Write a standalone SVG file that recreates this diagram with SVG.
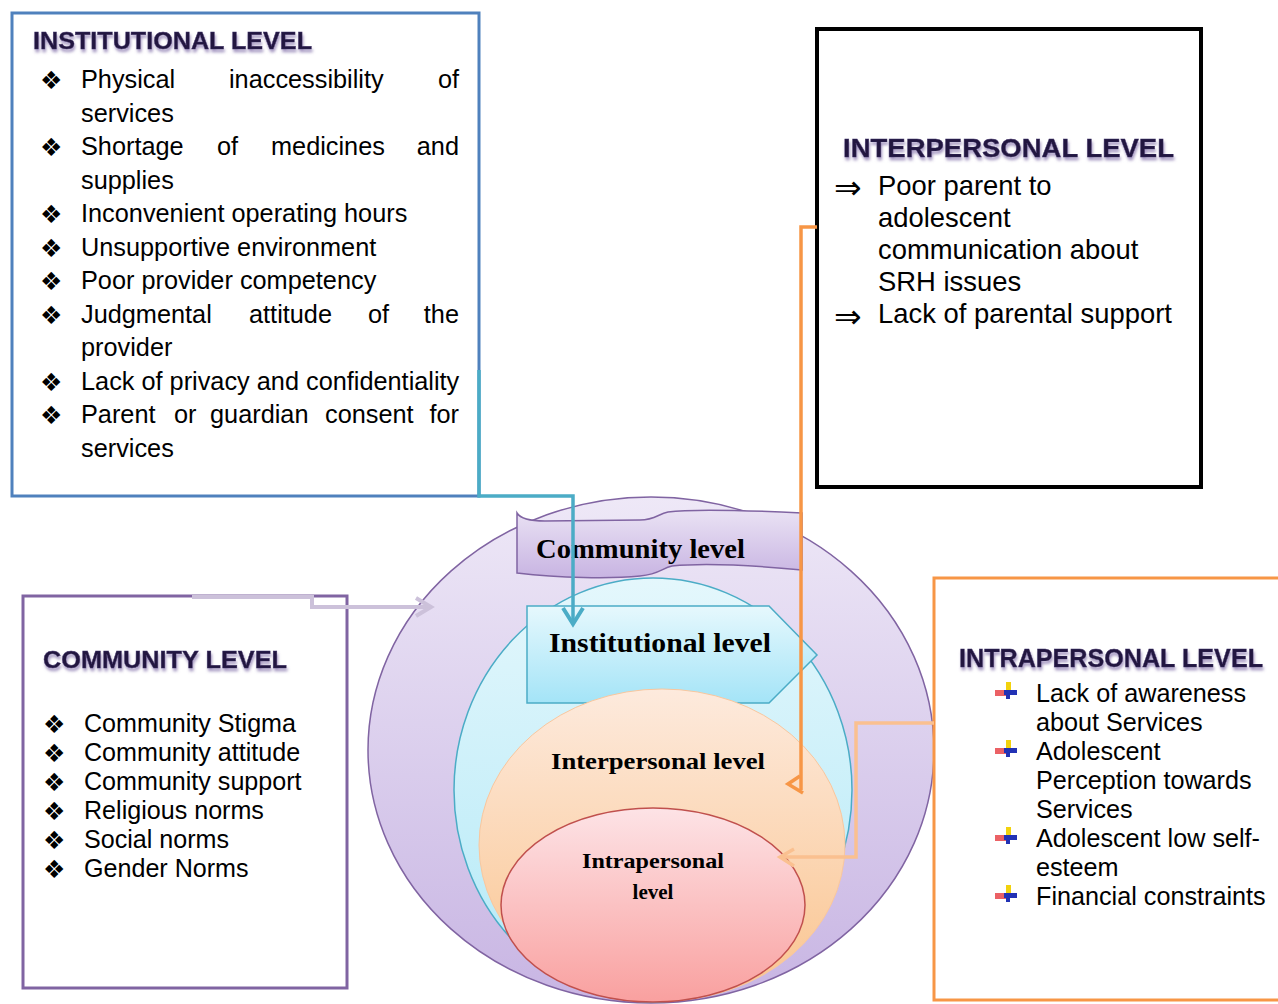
<svg xmlns="http://www.w3.org/2000/svg" xmlns:xlink="http://www.w3.org/1999/xlink" width="1278" height="1004" viewBox="0 0 1278 1004">
<defs>
<linearGradient id="gOuter" x1="0" y1="0" x2="0" y2="1"><stop offset="0" stop-color="#EEE8F7"/><stop offset="1" stop-color="#C8B5E3"/></linearGradient>
<linearGradient id="gCyan" x1="0" y1="0" x2="0" y2="1"><stop offset="0" stop-color="#E4F7FC"/><stop offset="1" stop-color="#B3E9F7"/></linearGradient>
<linearGradient id="gPent" x1="0" y1="0" x2="0" y2="1"><stop offset="0" stop-color="#E6F8FD"/><stop offset="1" stop-color="#A4E4F7"/></linearGradient>
<linearGradient id="gPeach" x1="0" y1="0" x2="0" y2="1"><stop offset="0" stop-color="#FDEADD"/><stop offset="1" stop-color="#FAC48E"/></linearGradient>
<linearGradient id="gRed" x1="0" y1="0" x2="0" y2="1"><stop offset="0" stop-color="#FDE3E6"/><stop offset="1" stop-color="#F9A09F"/></linearGradient>
<linearGradient id="gBanner" x1="0" y1="0" x2="0" y2="1"><stop offset="0" stop-color="#EAE2F4"/><stop offset="1" stop-color="#C8B4E2"/></linearGradient>
<filter id="hshadow" x="-5%" y="-30%" width="110%" height="180%">
<feDropShadow dx="1" dy="3" stdDeviation="1.6" flood-color="#7B68A6" flood-opacity="0.7"/>
</filter>
<filter id="soft" x="-20%" y="-20%" width="140%" height="140%">
<feGaussianBlur stdDeviation="0.6"/>
</filter>
<g id="qb" filter="url(#soft)">
<rect x="11" y="0" width="5" height="10" fill="#F2D20C"/>
<rect x="0" y="8" width="11" height="6" fill="#E8474A" opacity="0.85"/>
<rect x="9" y="8" width="13" height="5" fill="#2233B5"/>
<rect x="11" y="10" width="4" height="7" fill="#2233B5"/>
</g>
</defs>
<style>
.head{font-family:"Liberation Sans",Arial,sans-serif;font-weight:bold;fill:#22183F;stroke:#3E2E66;stroke-width:0.4;filter:url(#hshadow)}
.body{font-family:"Liberation Sans",Arial,sans-serif;fill:#000}
.bul{font-family:"DejaVu Sans",sans-serif;font-size:25px;fill:#000}
.arr{font-family:"DejaVu Sans",sans-serif;font-size:33px;fill:#000}
.lvl{font-family:"Liberation Serif","Times New Roman",serif;font-weight:bold;fill:#000}
.conn{fill:none;stroke-linejoin:miter}
</style>
<rect width="1278" height="1004" fill="#fff"/>

<g id="levels-diagram">
<ellipse id="outer-community" cx="651" cy="750" rx="283" ry="253" fill="url(#gOuter)" stroke="#8064A2" stroke-width="1.5"/>
<ellipse id="cyan-institutional" cx="653" cy="790" rx="199" ry="212" fill="url(#gCyan)" stroke="#4BACC6" stroke-width="1.5"/>
<g id="banner-community">
<path d="M517,513 C520,518 530,521 545,521 L640,520 C655,520 658,514 668,512 C690,509 740,510 802,513 L802,570 C750,565 700,563 672,566 C662,568 660,574 640,576 C610,579 560,578 517,573 Z" fill="url(#gBanner)" stroke="#8064A2" stroke-width="1.5"/>
<text class="lvl" x="536" y="558" font-size="27" textLength="209" lengthAdjust="spacingAndGlyphs">Community level</text>
</g>
<g id="pent-institutional">
<path d="M527,606 H769 L817,655 L769,703 H527 Z" fill="url(#gPent)" stroke="#4BACC6" stroke-width="1.5"/>
<text class="lvl" x="549" y="652" font-size="27" textLength="222" lengthAdjust="spacingAndGlyphs">Institutional level</text>
</g>
<g id="peach-interpersonal">
<ellipse cx="662" cy="845" rx="183" ry="156" fill="url(#gPeach)" stroke="#F9C79E" stroke-width="1"/>
<text class="lvl" x="551" y="769" font-size="24" textLength="214" lengthAdjust="spacingAndGlyphs">Interpersonal level</text>
</g>
<g id="red-intrapersonal">
<ellipse cx="653" cy="905" rx="152" ry="97" fill="url(#gRed)" stroke="#C0504D" stroke-width="1.5"/>
<text class="lvl" x="653" y="868" font-size="21" text-anchor="middle" textLength="142" lengthAdjust="spacingAndGlyphs">Intrapersonal</text>
<text class="lvl" x="653" y="899" font-size="21" text-anchor="middle">level</text>
</g>
</g>

<g id="box-institutional">
<rect x="12" y="13" width="467" height="483" fill="#fff" stroke="#4F81BD" stroke-width="3"/>
<text class="head" x="33" y="49" font-size="23" textLength="279" lengthAdjust="spacingAndGlyphs">INSTITUTIONAL LEVEL</text>
<g class="body" font-size="25.3">
<text x="81" y="88">Physical</text><text x="229" y="88">inaccessibility</text><text x="459" y="88" text-anchor="end">of</text>
<text x="81" y="121.5">services</text>
<text x="81" y="155">Shortage</text><text x="217" y="155">of</text><text x="271" y="155">medicines</text><text x="459" y="155" text-anchor="end">and</text>
<text x="81" y="188.5">supplies</text>
<text x="81" y="222">Inconvenient operating hours</text>
<text x="81" y="255.5">Unsupportive environment</text>
<text x="81" y="289">Poor provider competency</text>
<text x="81" y="322.5">Judgmental</text><text x="249" y="322.5">attitude</text><text x="368" y="322.5">of</text><text x="459" y="322.5" text-anchor="end">the</text>
<text x="81" y="356">provider</text>
<text x="81" y="389.5">Lack of privacy and confidentiality</text>
<text x="81" y="423">Parent</text><text x="174" y="423">or</text><text x="210" y="423">guardian</text><text x="325" y="423">consent</text><text x="459" y="423" text-anchor="end">for</text>
<text x="81" y="456.5">services</text>
</g>
<g class="bul">
<text x="40" y="89">❖</text><text x="40" y="156">❖</text><text x="40" y="223">❖</text><text x="40" y="256.5">❖</text><text x="40" y="290">❖</text><text x="40" y="323.5">❖</text><text x="40" y="390.5">❖</text><text x="40" y="424">❖</text>
</g>
</g>

<g id="box-community">
<rect x="23" y="596" width="324" height="392" fill="#fff" stroke="#8064A2" stroke-width="3"/>
<text class="head" x="43" y="668" font-size="23" textLength="244" lengthAdjust="spacingAndGlyphs">COMMUNITY LEVEL</text>
<g class="body" font-size="25.1">
<text x="84" y="731.5">Community Stigma</text>
<text x="84" y="760.5">Community attitude</text>
<text x="84" y="789.5">Community support</text>
<text x="84" y="818.5">Religious norms</text>
<text x="84" y="847.5">Social norms</text>
<text x="84" y="876.5">Gender Norms</text>
</g>
<g class="bul">
<text x="43" y="732.5">❖</text><text x="43" y="761.5">❖</text><text x="43" y="790.5">❖</text><text x="43" y="819.5">❖</text><text x="43" y="848.5">❖</text><text x="43" y="877.5">❖</text>
</g>
</g>

<g id="box-interpersonal">
<rect x="817" y="29" width="384" height="458" fill="#fff" stroke="#000" stroke-width="4"/>
<text class="head" x="843" y="157" font-size="25" textLength="331" lengthAdjust="spacingAndGlyphs">INTERPERSONAL LEVEL</text>
<g class="body" font-size="27.4">
<text x="878" y="195">Poor parent to</text>
<text x="878" y="227">adolescent</text>
<text x="878" y="259">communication about</text>
<text x="878" y="291">SRH issues</text>
<text x="878" y="323">Lack of parental support</text>
</g>
<g class="arr">
<text x="834" y="199">⇒</text><text x="834" y="328">⇒</text>
</g>
</g>

<g id="box-intrapersonal">
<rect x="934" y="578" width="400" height="422" fill="#fff" stroke="#F79646" stroke-width="3"/>
<text class="head" x="959" y="667" font-size="25" textLength="304" lengthAdjust="spacingAndGlyphs">INTRAPERSONAL LEVEL</text>
<g class="body" font-size="25.2">
<text x="1036" y="702">Lack of awareness</text>
<text x="1036" y="731">about Services</text>
<text x="1036" y="760">Adolescent</text>
<text x="1036" y="789">Perception towards</text>
<text x="1036" y="818">Services</text>
<text x="1036" y="847">Adolescent low self-</text>
<text x="1036" y="876">esteem</text>
<text x="1036" y="905">Financial constraints</text>
</g>
<use xlink:href="#qb" x="995" y="682"/>
<use xlink:href="#qb" x="995" y="740"/>
<use xlink:href="#qb" x="995" y="827"/>
<use xlink:href="#qb" x="995" y="885"/>
</g>

<g id="connectors" class="conn">
<path d="M479,370 V496 H573 V622" stroke="#4BACC6" stroke-width="3.5"/>
<polyline points="563,608 573,624 583,608" stroke="#4BACC6" stroke-width="4"/>
<path d="M192,597 H312 V607 H429" stroke="#CCC1DA" stroke-width="4"/>
<polyline points="416,598 431,607 416,616" stroke="#CCC1DA" stroke-width="4"/>
<path d="M817,227 H801 V790" stroke="#F79646" stroke-width="3.5"/>
<polyline points="800,776 788,784 803,793" stroke="#F79646" stroke-width="3.5"/>
<path d="M934,723 H856 V857 H781" stroke="#FAC090" stroke-width="3.5"/>
<polyline points="794,849 780,857 794,866" stroke="#FAC090" stroke-width="3.5"/>
</g>
</svg>
